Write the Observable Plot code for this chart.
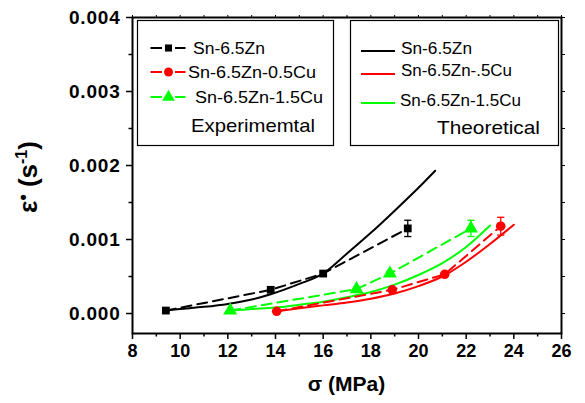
<!DOCTYPE html>
<html>
<head>
<meta charset="utf-8">
<script src="https://cdn.jsdelivr.net/npm/d3@7"></script>
<script src="https://cdn.jsdelivr.net/npm/@observablehq/plot@0.6"></script>
<style>
  body { margin: 0; background: #fff; }
  #chart { width: 585px; height: 403px; }
  #chart svg { font-family: "Liberation Sans", Arial, sans-serif; }
</style>
</head>
<body>
<div id="chart"></div>
<script>
// Experimental creep rates (points joined by dashed lines)
const sigmaZn    = [9.4, 13.8, 16.0, 19.55];
const rateZn     = [0.00004, 0.00032, 0.00054, 0.00115];
const errZn      = [0, 0, 0.00002, 0.00011];

const sigmaCu05  = [14.05, 18.9, 21.1, 23.45];
const rateCu05   = [0.00003, 0.00032, 0.00053, 0.00118];
const errCu05    = [0, 0.00003, 0.00003, 0.00012];

const sigmaCu15  = [12.1, 17.4, 18.8, 22.2];
const rateCu15   = [0.00004, 0.00033, 0.00054, 0.00115];
const errCu15    = [0, 0.00003, 0.00003, 0.00011];

// Theoretical curves (solid)
const thSigmaZn   = [9.4, 10, 11, 12, 13, 13.8, 15, 16, 17, 18, 19, 20, 20.7];
const thRateZn    = [0.00004, 0.00006, 0.00009, 0.00013, 0.00019, 0.00026, 0.0004, 0.00054, 0.00081, 0.00109, 0.00139, 0.0017, 0.00193];
const thSigmaCu05 = [14.05, 15, 16, 17, 18, 19, 20, 21, 22, 23, 24];
const thRateCu05  = [0.00003, 0.00007, 0.00011, 0.00015, 0.0002, 0.00027, 0.00037, 0.0005, 0.0007, 0.00094, 0.0012];
const thSigmaCu15 = [12.1, 13, 14, 15, 16, 17, 18, 19, 20, 21, 22, 23];
const thRateCu15  = [0.00004, 0.00006, 0.00008, 0.00012, 0.00016, 0.00022, 0.00029, 0.00039, 0.00052, 0.00068, 0.0009, 0.00119];

// Axis ticks
const xMajor = [8, 10, 12, 14, 16, 18, 20, 22, 24, 26];
const xMinor = [9, 11, 13, 15, 17, 19, 21, 23, 25];
const yMajor = [0, 0.001, 0.002, 0.003, 0.004];
const yMinor = [0.0005, 0.0015, 0.0025, 0.0035];

// Legend texts
const expLabels = ["Sn-6.5Zn", "Sn-6.5Zn-0.5Cu", "Sn-6.5Zn-1.5Cu"];
const thLabels  = ["Sn-6.5Zn", "Sn-6.5Zn-.5Cu", "Sn-6.5Zn-1.5Cu"];
const expTitle = "Experimemtal";
const thTitle = "Theoretical";

const BLACK = "#000000", RED = "#ff0000", GREEN = "#00ff00";

const toRows = (xs, ys, es) => xs.map((x, i) => ({sigma: x, rate: ys[i], err: es ? es[i] : 0}));

const experimental = [
  {rows: toRows(sigmaZn, rateZn, errZn), color: BLACK, symbol: "square", r: 4.4},
  {rows: toRows(sigmaCu05, rateCu05, errCu05), color: RED, symbol: "circle", r: 4.8},
  {rows: toRows(sigmaCu15, rateCu15, errCu15), color: GREEN, symbol: "triangle", r: 5.2}
];
const theoretical = [
  {rows: toRows(thSigmaZn, thRateZn), color: BLACK},
  {rows: toRows(thSigmaCu05, thRateCu05), color: RED},
  {rows: toRows(thSigmaCu15, thRateCu15), color: GREEN}
];

// Short horizontal bar used as an error-bar cap
const capSymbol = {
  draw(context) { context.moveTo(-3.6, 0); context.lineTo(3.6, 0); }
};

const marks = [];
for (const s of theoretical) {
  marks.push(Plot.line(s.rows, {x: "sigma", y: "rate", stroke: s.color, strokeWidth: 2, curve: "catmull-rom"}));
}
for (const s of experimental) {
  const withErr = s.rows.filter(d => d.err > 0);
  marks.push(
    Plot.line(s.rows, {x: "sigma", y: "rate", stroke: s.color, strokeWidth: 2, strokeDasharray: "10,6"}),
    Plot.ruleX(withErr, {x: "sigma", y1: d => d.rate - d.err, y2: d => d.rate + d.err, stroke: s.color, strokeWidth: 1.3}),
    Plot.dot(withErr, {x: "sigma", y: d => d.rate + d.err, symbol: capSymbol, stroke: s.color, strokeWidth: 1.3}),
    Plot.dot(withErr, {x: "sigma", y: d => d.rate - d.err, symbol: capSymbol, stroke: s.color, strokeWidth: 1.3}),
    Plot.dot(s.rows, {x: "sigma", y: "rate", symbol: s.symbol, r: s.r, fill: s.color, stroke: "none"})
  );
}

const chart = Plot.plot({
  width: 585,
  height: 403,
  marginLeft: 132,
  marginRight: 24,
  marginTop: 17,
  marginBottom: 70,
  x: {domain: [8, 26]},
  y: {domain: [-0.00027, 0.004]},
  marks: [
    Plot.axisX({ticks: xMajor, tickSize: 6, tickPadding: 5, fontSize: 18, fontWeight: "bold", label: null, strokeWidth: 1.5}),
    Plot.axisX({ticks: xMinor, tickSize: 3.5, tickFormat: () => "", label: null, strokeWidth: 1.5}),
    Plot.axisX({anchor: "top", ticks: [...xMajor, ...xMinor], tickSize: 3, tickFormat: () => "", label: null, strokeWidth: 1}),
    Plot.axisY({ticks: yMajor, tickSize: 6, tickPadding: 6, fontSize: 19, fontWeight: "bold", tickFormat: d3.format(".3f"), label: null, strokeWidth: 1.5}),
    Plot.axisY({ticks: yMinor, tickSize: 3.5, tickFormat: () => "", label: null, strokeWidth: 1.5}),
    Plot.axisY({anchor: "right", ticks: [...yMajor, ...yMinor], tickSize: 3, tickFormat: () => "", label: null, strokeWidth: 1}),
    Plot.frame({stroke: BLACK, strokeWidth: 2}),
    ...marks
  ]
});

document.getElementById("chart").appendChild(chart);

// Axis titles and legend boxes
const svg = d3.select(chart);
svg.selectAll("g[aria-label='y-axis tick label'] text").style("letter-spacing", "0.8px");

svg.append("text")
  .attr("x", 346.5).attr("y", 391)
  .attr("text-anchor", "middle")
  .attr("font-size", 21).attr("font-weight", "bold").attr("fill", BLACK)
  .text("σ (MPa)");

const yTitle = svg.append("text")
  .attr("transform", "translate(37,177) rotate(-90)")
  .attr("text-anchor", "middle")
  .attr("font-size", 26).attr("font-weight", "bold").attr("fill", BLACK);
yTitle.append("tspan").text("ε");
yTitle.append("tspan").attr("font-size", 18).attr("dy", -8).text("•");
yTitle.append("tspan").attr("dy", 8).text(" (s");
yTitle.append("tspan").attr("font-size", 16).attr("dy", -10).text("-1");
yTitle.append("tspan").attr("dy", 10).text(")");

const colors = [BLACK, RED, GREEN];
const legend = svg.append("g").attr("font-size", 16).attr("fill", BLACK).attr("text-anchor", "start");

// experimental legend: dash, marker, dash
legend.append("rect").attr("x", 137.5).attr("y", 20.5).attr("width", 196).attr("height", 125)
  .attr("fill", "white").attr("stroke", BLACK).attr("stroke-width", 1.2);
const expRowY = [48, 72, 97];
const expTextX = [193, 188, 195];
const expTextLen = [72, 128, 128];
const expSymbols = [d3.symbolSquare, d3.symbolCircle, d3.symbolTriangle];
const expSymSize = [50, 64, 70];
expLabels.forEach((label, i) => {
  const y = expRowY[i];
  legend.append("line").attr("x1", 150.5).attr("x2", 162).attr("y1", y).attr("y2", y)
    .attr("stroke", colors[i]).attr("stroke-width", 2);
  legend.append("line").attr("x1", 175).attr("x2", 185.5).attr("y1", y).attr("y2", y)
    .attr("stroke", colors[i]).attr("stroke-width", 2);
  legend.append("path").attr("d", d3.symbol(expSymbols[i], expSymSize[i])())
    .attr("transform", `translate(168.5,${y})`).attr("fill", colors[i]);
  legend.append("text").attr("x", expTextX[i]).attr("y", y + 6)
    .attr("textLength", expTextLen[i]).attr("lengthAdjust", "spacingAndGlyphs").text(label);
});
legend.append("text").attr("x", 191).attr("y", 132).attr("font-size", 19)
  .attr("textLength", 124).attr("lengthAdjust", "spacingAndGlyphs").text(expTitle);

// theoretical legend
legend.append("rect").attr("x", 350.5).attr("y", 20.5).attr("width", 208).attr("height", 125)
  .attr("fill", "white").attr("stroke", BLACK).attr("stroke-width", 1.2);
const thLineY = [51, 74, 103];
const thTextY = [54, 76, 106];
const thTextX = [401, 401, 400];
const thTextLen = [71, 111, 121];
thLabels.forEach((label, i) => {
  legend.append("line").attr("x1", 361).attr("x2", 395).attr("y1", thLineY[i]).attr("y2", thLineY[i])
    .attr("stroke", colors[i]).attr("stroke-width", 2);
  legend.append("text").attr("x", thTextX[i]).attr("y", thTextY[i])
    .attr("textLength", thTextLen[i]).attr("lengthAdjust", "spacingAndGlyphs").text(label);
});
legend.append("text").attr("x", 437).attr("y", 134).attr("font-size", 19)
  .attr("textLength", 103).attr("lengthAdjust", "spacingAndGlyphs").text(thTitle);
</script>
</body>
</html>
